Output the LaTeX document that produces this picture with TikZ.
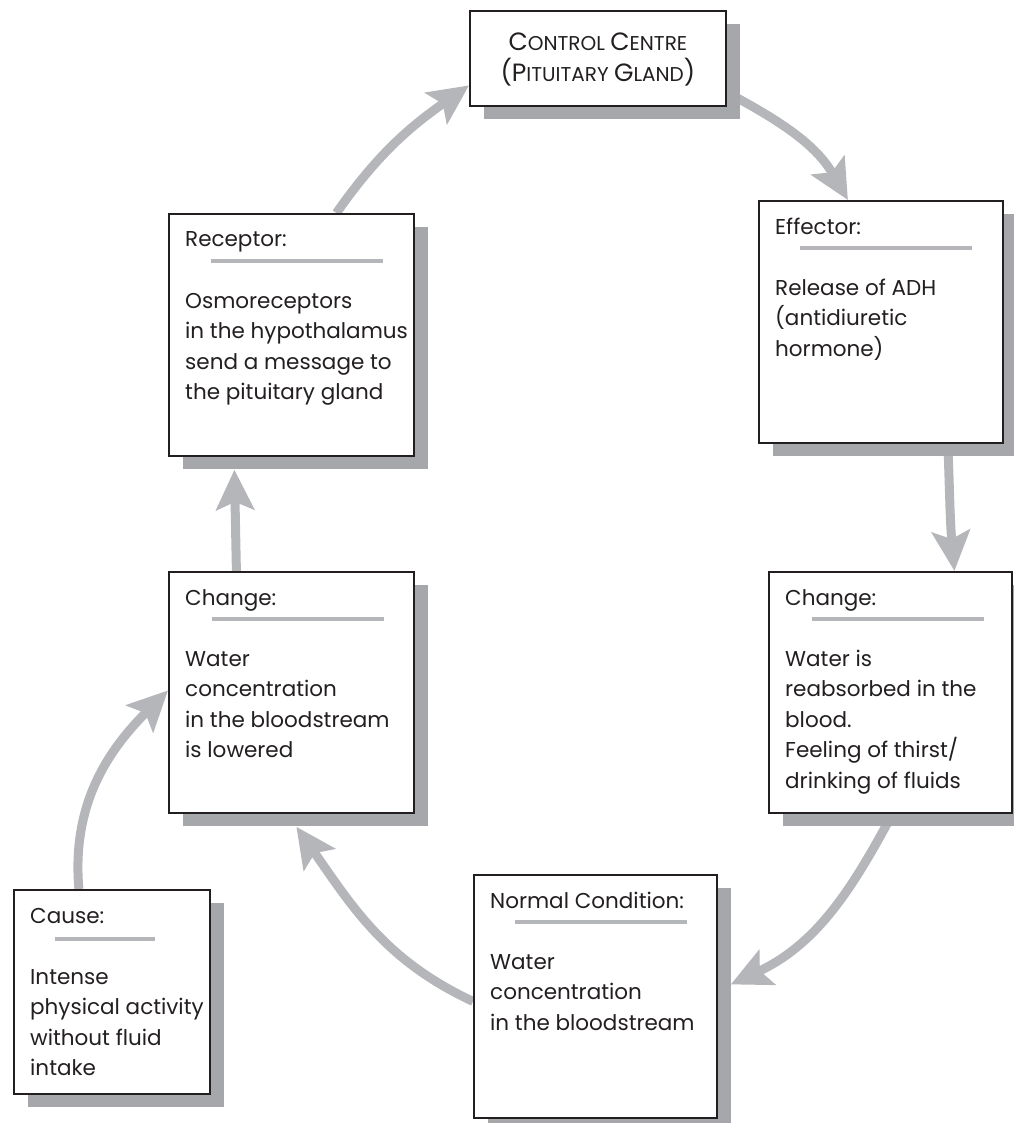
\documentclass[tikz,border=0pt]{standalone}
\usepackage{fontspec}
\setmainfont{Poppins}
\usetikzlibrary{positioning,shadows,arrows.meta,backgrounds}

\definecolor{arrowgray}{HTML}{B5B6BA}
\definecolor{shadowgray}{HTML}{A6A7AB}
\definecolor{inkblack}{HTML}{231F20}

\newcommand{\capsmall}[2]{{\fontsize{25}{31}\selectfont #1}{\fontsize{20}{31}\selectfont #2}}

\begin{document}
\begin{tikzpicture}[x=1pt,y=1pt,
        box/.style={draw=inkblack, line width=1.8pt, fill=white, anchor=north west, inner sep=0pt,
            general shadow={fill=shadowgray, shadow xshift=14pt, shadow yshift=-13pt}},
        heading/.style={anchor=base west, inner sep=0pt, xshift=17pt, yshift=-34pt,
            text=inkblack, font=\fontsize{21.5}{30.5}\selectfont},
        bodytext/.style={anchor=north west, inner sep=0pt, xshift=17pt, yshift=-73.6pt,
            align=left, text=inkblack, font=\fontsize{21.5}{30.5}\selectfont},
        underline/.style={draw=arrowgray, line width=4pt},
        flow/.style={draw=arrowgray, line width=9pt, -{Stealth[length=40pt,width=38pt,inset=8pt]}}]
    \useasboundingbox (0,0) rectangle (1013,-1123);

    % control centre
    \node[box, minimum width=256pt, minimum height=95pt] (ctrl) at (469,-10) {};
    \node[align=center, inner sep=0pt, text=inkblack, font=\fontsize{20}{31}\selectfont] (ctrltext)
        at ([yshift=-1pt]ctrl.center)
        {\capsmall{C}{ONTROL}\ \capsmall{C}{ENTRE}\\\capsmall{(P}{ITUITARY}\ \capsmall{G}{LAND}\capsmall{)}{}};

    % receptor
    \node[box, minimum width=245pt, minimum height=242pt] (rec) at (168,-213) {};
    \node[heading] (rechead) at (rec.north west) {Receptor:};
    \draw[underline] ([xshift=43pt,yshift=-48pt]rec.north west) -- ++(172,0);
    \node[bodytext] (recbody) at (rec.north west)
        {\strut Osmoreceptors\\in the hypothalamus\\send a message to\\the pituitary gland};

    % effector
    \node[box, minimum width=244pt, minimum height=242pt] (eff) at (758,-200) {};
    \node[heading] (effhead) at (eff.north west) {Effector:};
    \draw[underline] ([xshift=42pt,yshift=-48pt]eff.north west) -- ++(172,0);
    \node[bodytext] (effbody) at (eff.north west)
        {\strut Release of ADH\\(antidiuretic\\hormone)};

    % change (right)
    \node[box, minimum width=243pt, minimum height=241pt] (chgR) at (768,-571) {};
    \node[heading] (chgRhead) at (chgR.north west) {Change:};
    \draw[underline] ([xshift=44pt,yshift=-48pt]chgR.north west) -- ++(172,0);
    \node[bodytext] (chgRbody) at (chgR.north west)
        {\strut Water is\\reabsorbed in the\\blood.\\Feeling of thirst/\\drinking of fluids};

    % normal condition
    \node[box, minimum width=243pt, minimum height=243pt] (norm) at (473,-874) {};
    \node[heading] (normhead) at (norm.north west) {Normal Condition:};
    \draw[underline] ([xshift=42pt,yshift=-48pt]norm.north west) -- ++(172,0);
    \node[bodytext] (normbody) at (norm.north west)
        {\strut Water\\concentration\\in the bloodstream};

    % change (left)
    \node[box, minimum width=245pt, minimum height=241pt] (chgL) at (168,-571) {};
    \node[heading] (chgLhead) at (chgL.north west) {Change:};
    \draw[underline] ([xshift=44pt,yshift=-48pt]chgL.north west) -- ++(172,0);
    \node[bodytext] (chgLbody) at (chgL.north west)
        {\strut Water\\concentration\\in the bloodstream\\is lowered};

    % cause
    \node[box, minimum width=196pt, minimum height=204pt] (cause) at (13,-889) {};
    \node[heading] (causehead) at (cause.north west) {Cause:};
    \draw[underline] ([xshift=42pt,yshift=-50pt]cause.north west) -- ++(100,0);
    \node[bodytext] (causebody) at (cause.north west)
        {\strut Intense\\physical activity\\without fluid\\intake};

    % the loop
    \begin{scope}[on background layer]
        \draw[flow] ([xshift=45pt]rec.north) to[out=55,in=215] ([yshift=-27pt]ctrl.west);
        \draw[flow] ([yshift=-34pt]ctrl.east) to[out=-28,in=120] ([xshift=-33pt]eff.north);
        \draw[flow] ([xshift=67pt]eff.south) to[out=-88,in=95] ([xshift=64pt]chgR.north);
        \draw[flow] ([xshift=2pt]chgR.south) to[out=-118,in=25] ([xshift=13pt,yshift=12pt]norm.east);
        \draw[flow] ([yshift=-5pt]norm.west) to[out=155,in=-55] ([xshift=5pt,yshift=-13pt]chgL.south);
        \draw[flow] ([xshift=-33pt]cause.north) to[out=95,in=225] ([yshift=2pt]chgL.west);
        \draw[flow] ([xshift=-55pt]chgL.north) -- ([xshift=-57pt,yshift=-13pt]rec.south);
    \end{scope}
\end{tikzpicture}
\end{document}
